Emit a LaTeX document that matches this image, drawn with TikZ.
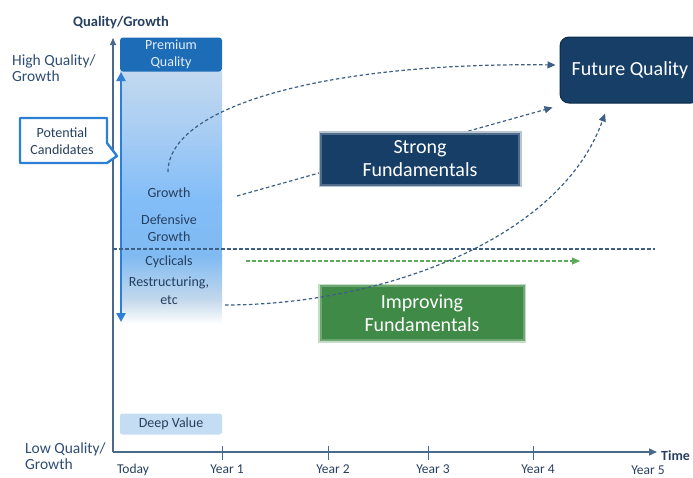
\documentclass[tikz,border=0pt]{standalone}
\usepackage{fontspec}
\setmainfont{Carlito}
\usetikzlibrary{arrows.meta,calc}
\definecolor{axisc}{HTML}{4A6A8C}
\definecolor{txt}{HTML}{263F5E}
\definecolor{hq}{HTML}{2D4D75}
\definecolor{navy}{HTML}{163E66}
\definecolor{dashc}{HTML}{3D5F85}
\definecolor{bluebar}{HTML}{2B7FD4}
\definecolor{prem}{HTML}{1D6CB8}
\definecolor{greenbox}{HTML}{3F8A46}
\definecolor{greendash}{HTML}{5AAA5A}
\definecolor{deep}{HTML}{C5DDF2}
\definecolor{g1}{HTML}{C3D9EF}
\definecolor{g2}{HTML}{A8CDF3}
\definecolor{g3}{HTML}{82BDF8}
\definecolor{g4}{HTML}{7FBAF2}
\definecolor{g5}{HTML}{C5D9EC}
\tikzset{
  lbl/.style={font=\fontsize{14}{17}\selectfont, text=txt, align=center, inner sep=0pt},
  yearlbl/.style={font=\fontsize{13.5}{15}\selectfont, text=txt, inner sep=0pt},
  axisline/.style={draw=axisc, line width=1.3pt},
  dashed curve/.style={draw=dashc, line width=1.2pt, dash pattern=on 3.5pt off 2.5pt, -{Triangle[length=8pt,width=7pt]}},
  bigbox/.style={font=\fontsize{20}{23}\selectfont, text=white, align=center, minimum width=200pt, inner sep=0pt},
}
\begin{document}
\begin{tikzpicture}[x=1pt,y=-1pt]
\useasboundingbox (0,0) rectangle (693,477);

% axis titles
\node[font=\bfseries\fontsize{14.5}{15}\selectfont, text=txt] (ytitle) at (121,23) {Quality/Growth};
\node[lbl, text=hq, align=left, anchor=west, font=\fontsize{15.5}{16}\selectfont] (high) at (12,68) {High Quality/\\Growth};
\node[lbl, text=hq, align=left, anchor=west, font=\fontsize{15.5}{16}\selectfont] (low) at (25,456) {Low Quality/\\Growth};

% gradient column
\shade[top color=g1, bottom color=g2] (120,71) rectangle (222,131);
\shade[top color=g2, bottom color=g3] (120,130) rectangle (222,201);
\shade[top color=g3, bottom color=g4] (120,200) rectangle (222,256);
\shade[top color=g4, bottom color=g5] (120,255) rectangle (222,301);
\shade[top color=g5, bottom color=white] (120,300) rectangle (222,324);

\node[fill=prem, rounded corners=3pt, minimum width=102pt, minimum height=34pt, inner sep=0pt,
      text=white!88!prem, align=center, font=\fontsize{14}{16.5}\selectfont] (premium) at (171,54.5) {Premium\\Quality};

% axes
\coordinate (origin) at (113,452);
\coordinate (ytop) at (113,38);
\coordinate (xend) at (657,452);
\draw[axisline, -{Triangle[length=7pt,width=6pt]}] (origin) -- (ytop);
\draw[axisline, -{Triangle[length=8pt,width=7pt]}] (origin) -- (xend);
\node[font=\bfseries\fontsize{14}{15}\selectfont, text=txt, anchor=west, inner sep=0pt] (time) at (661,456) {Time};
\foreach \xx/\nm in {222/t1,328/t2,428/t3,533/t4}{
  \coordinate (\nm a) at (\xx,446);
  \coordinate (\nm b) at (\xx,460);
  \draw[draw=axisc, line width=1pt] (\nm a) -- (\nm b);
}
\node[yearlbl] (today) at (133,470) {Today};
\node[yearlbl] (y1) at (227,469) {Year 1};
\node[yearlbl] (y2) at (333,469) {Year 2};
\node[yearlbl] (y3) at (433,469) {Year 3};
\node[yearlbl] (y4) at (538,469) {Year 4};
\node[yearlbl] (y5) at (648,470) {Year 5};

% blue double arrow
\coordinate (btop) at (121,72);
\coordinate (bbot) at (121,322);
\draw[bluebar, line width=2.6pt, {Triangle[length=9pt,width=9pt]}-{Triangle[length=9pt,width=9pt]}] (btop) -- (bbot);

% callout
\draw[bluebar, line width=2.4pt, fill=white, line join=round]
  (20,118) -- (107,118) -- (107,143) -- (117,156) -- (107,163) -- (20,163) -- cycle;
\node[lbl, font=\fontsize{14}{17}\selectfont] (potential) at (62,141) {Potential\\Candidates};

% column texts
\node[lbl] (growth) at (169,193) {Growth};
\node[lbl] (defensive) at (169,228) {Defensive\\Growth};
\node[lbl] (cyclicals) at (169,262) {Cyclicals};
\node[lbl, font=\fontsize{14}{18}\selectfont] (restr) at (169,291) {Restructuring,\\etc};

% deep value
\node[fill=deep, rounded corners=2.5pt, minimum width=102pt, minimum height=21pt, inner sep=0pt,
      lbl] (deepvalue) at (171,424) {Deep Value};

% horizontal dashed line and green arrow
\coordinate (hl1) at (113,249);
\coordinate (hl2) at (655,249);
\draw[dashc, line width=1.2pt, dash pattern=on 3.5pt off 2.5pt] (hl1) -- (hl2);
\coordinate (gr1) at (246,261);
\coordinate (gr2) at (580,261);
\draw[greendash, line width=1.1pt, dash pattern=on 3.5pt off 2.5pt, -{Triangle[length=8pt,width=7pt]}] (gr1) -- (gr2);

% future quality
\node[fill=navy, draw=navy!70!black, line width=1pt, rounded corners=9pt, minimum width=140pt, minimum height=66pt,
      inner sep=0pt, text=white, font=\fontsize{20}{23}\selectfont] (fq) at (630,70) {Future Quality};

% improving fundamentals (drawn under curves)
\node[bigbox, fill=greenbox, minimum width=203pt, minimum height=54pt,
      preaction={draw=greenbox!30, line width=5pt}, draw=greenbox!75, line width=2pt] (improving) at (422,313) {Improving\\Fundamentals};

% curves
\coordinate (c1) at (168,172);
\coordinate (c2) at (237,196);
\coordinate (c3) at (225,305);
\draw[dashed curve] (c1) .. controls (168,105) and (330,62) .. ($(fq.west)+(-4,-5)$);
\draw[dashed curve] (c2) -- ($(fq.south west)+(-7,4)$);
\draw[dashed curve] (c3) .. controls (380,305) and (560,240) .. ($(fq.south)+(-25,10)$);

% strong fundamentals (drawn over its curve)
\node[bigbox, fill=navy, minimum width=198pt, minimum height=51pt,
      preaction={draw=navy!30, line width=5pt}, draw=navy!75, line width=2pt] (strong) at (420,159) {Strong\\Fundamentals};
\end{tikzpicture}
\end{document}
